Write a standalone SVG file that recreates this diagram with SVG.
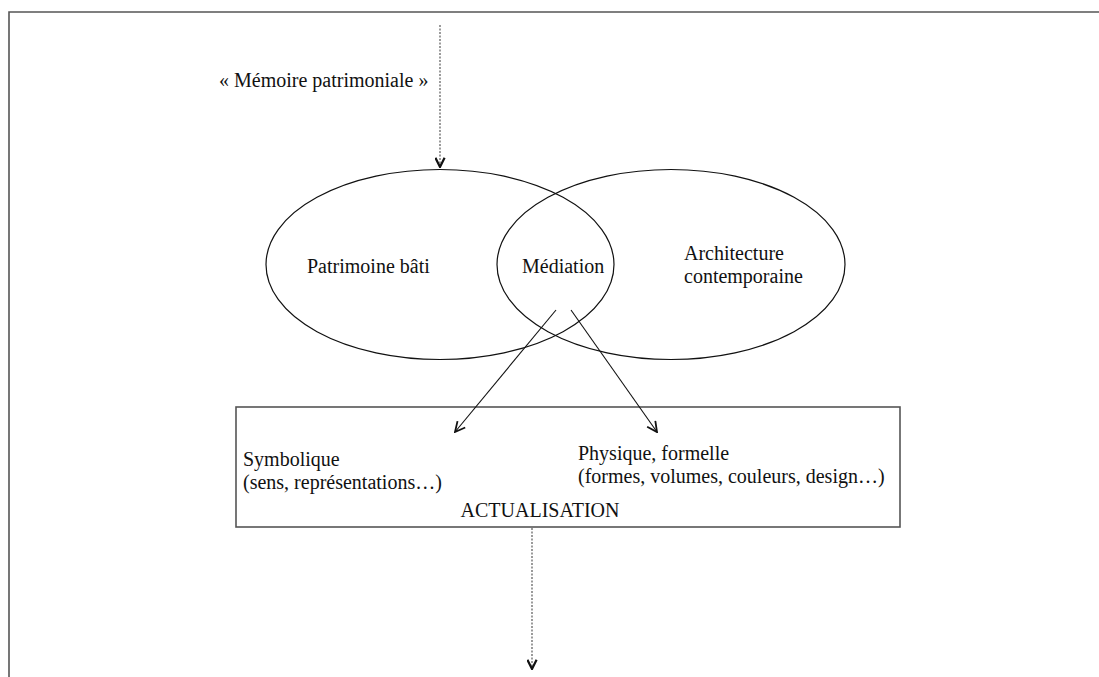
<svg xmlns="http://www.w3.org/2000/svg" width="1099" height="677" viewBox="0 0 1099 677">
<style>
  .t{font-family:"Liberation Serif","Times New Roman",serif;font-size:20px;fill:#111;}
  .shape{fill:none;stroke:#111;stroke-width:1.2;}
  .frame{fill:none;stroke:#555;stroke-width:1.6;}
  .solid{fill:none;stroke:#111;stroke-width:1.1;}
  .dot{fill:none;stroke:#666;stroke-width:1.3;stroke-dasharray:2 1.5;}
</style>
<defs>
  <marker id="arr" viewBox="0 0 12 12" refX="11" refY="6" markerWidth="12" markerHeight="12" markerUnits="userSpaceOnUse" orient="auto">
    <path d="M1,1 L11,6 L1,11" fill="none" stroke="#111" stroke-width="1.8"/>
  </marker>
  <marker id="arrb" viewBox="0 0 12 12" refX="11" refY="6" markerWidth="11" markerHeight="11" markerUnits="userSpaceOnUse" orient="auto">
    <path d="M1,1 L11,6 L1,11" fill="none" stroke="#111" stroke-width="2.4"/>
  </marker>
</defs>
<rect width="1099" height="677" fill="#fff"/>
<path class="frame" d="M9,677 V12 H1099"/>

<g id="memoire">
  <text class="t" x="219" y="87">« Mémoire patrimoniale »</text>
</g>
<g id="patrimoine">
  <ellipse class="shape" cx="440" cy="264.5" rx="174" ry="95"/>
  <text class="t" x="307" y="273">Patrimoine bâti</text>
</g>
<g id="architecture">
  <ellipse class="shape" cx="671" cy="264.5" rx="174" ry="95"/>
  <text class="t" x="684" y="260">Architecture</text>
  <text class="t" x="684" y="283">contemporaine</text>
</g>
<g id="mediation">
  <text class="t" x="522" y="273">Médiation</text>
</g>
<g id="actualisation">
  <rect class="frame" x="236" y="407" width="664" height="120"/>
  <text class="t" x="243" y="466">Symbolique</text>
  <text class="t" x="243" y="489">(sens, représentations…)</text>
  <text class="t" x="578" y="460">Physique, formelle</text>
  <text class="t" x="578" y="483">(formes, volumes, couleurs, design…)</text>
  <text class="t" x="540" y="517" text-anchor="middle">ACTUALISATION</text>
</g>
<g id="connectors">
  <line class="dot" x1="440" y1="25" x2="440" y2="167" marker-end="url(#arrb)"/>
  <line class="solid" x1="556" y1="310" x2="455" y2="432" marker-end="url(#arr)"/>
  <line class="solid" x1="571" y1="310" x2="657" y2="432" marker-end="url(#arr)"/>
  <line class="dot" x1="532" y1="528" x2="532" y2="669" marker-end="url(#arrb)"/>
</g>
</svg>
